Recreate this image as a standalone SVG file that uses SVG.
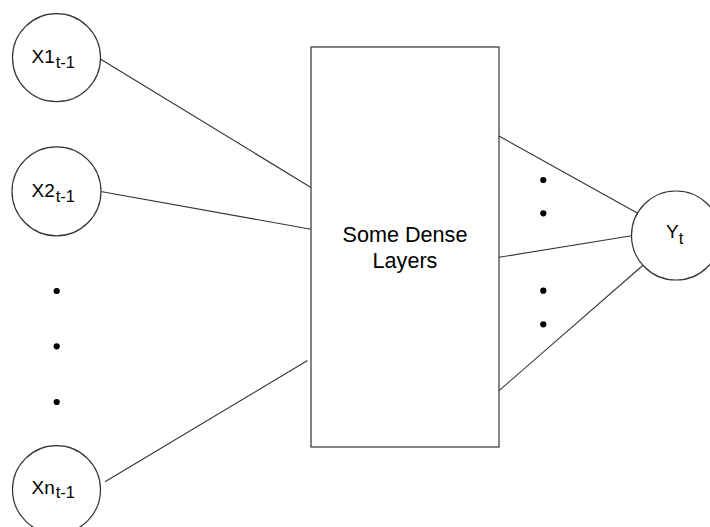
<svg xmlns="http://www.w3.org/2000/svg" width="710" height="527" viewBox="0 0 710 527">
  <style>
    .node { fill: #ffffff; stroke: #333333; stroke-width: 1.2; }
    .edge { fill: none; stroke: #333333; stroke-width: 1.1; }
    .dot { fill: #000000; }
    .lbl { font-family: "Liberation Sans", Arial, Helvetica, sans-serif; font-size: 19px; fill: #000000; }
    .sub { font-size: 16.5px; }
    .big { font-family: "Liberation Sans", Arial, Helvetica, sans-serif; font-size: 21.6px; fill: #000000; text-anchor: middle; }
  </style>
  <rect width="710" height="527" fill="#ffffff"/>

  <!-- connectors -->
  <g id="connectors">
    <line class="edge" x1="100.7" y1="59.3" x2="311" y2="187.5"/>
    <line class="edge" x1="100.7" y1="191.5" x2="311" y2="229.3"/>
    <line class="edge" x1="105" y1="481.7" x2="307.5" y2="360.5"/>
    <line class="edge" x1="499" y1="136" x2="637.7" y2="213.3"/>
    <line class="edge" x1="499" y1="257.3" x2="631.7" y2="235.7"/>
    <line class="edge" x1="499" y1="390.7" x2="643.3" y2="265"/>
  </g>

  <!-- ellipsis dots between inputs -->
  <g id="input-dots">
    <circle class="dot" cx="56.7" cy="291" r="3.1"/>
    <circle class="dot" cx="56.7" cy="346.3" r="3.1"/>
    <circle class="dot" cx="56.7" cy="402" r="3.1"/>
  </g>

  <!-- ellipsis dots between outputs -->
  <g id="output-dots">
    <circle class="dot" cx="543.3" cy="180" r="3.1"/>
    <circle class="dot" cx="543.3" cy="213.3" r="3.1"/>
    <circle class="dot" cx="543.3" cy="290.7" r="3.1"/>
    <circle class="dot" cx="543.3" cy="324.3" r="3.1"/>
  </g>

  <g id="x1">
    <circle class="node" cx="56.5" cy="57.7" r="44"/>
    <text class="lbl" x="31.5" y="62.7">X1<tspan class="sub" dx="1" dy="4.8">t-1</tspan></text>
  </g>

  <g id="x2">
    <circle class="node" cx="56.5" cy="191.3" r="44.5"/>
    <text class="lbl" x="31.5" y="197.3">X2<tspan class="sub" dx="1" dy="4.8">t-1</tspan></text>
  </g>

  <g id="xn">
    <circle class="node" cx="56.5" cy="489.7" r="44"/>
    <text class="lbl" x="31.5" y="493.5">Xn<tspan class="sub" dx="1" dy="4.8">t-1</tspan></text>
  </g>

  <g id="dense">
    <rect class="node" x="311" y="47" width="188" height="400"/>
    <text class="big" x="405" y="241.5">Some Dense</text>
    <text class="big" x="405" y="267.7">Layers</text>
  </g>

  <g id="yt">
    <circle class="node" cx="676" cy="235.5" r="44.5"/>
    <text class="lbl" x="666" y="238.3">Y<tspan class="sub" dy="6">t</tspan></text>
  </g>
</svg>
